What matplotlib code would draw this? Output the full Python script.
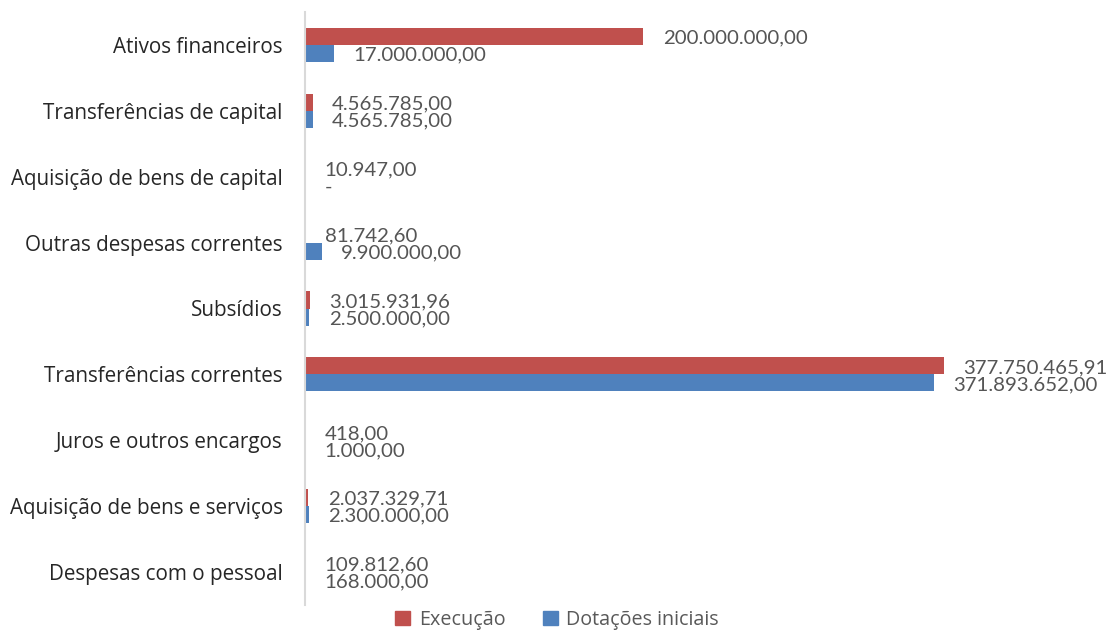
import matplotlib.pyplot as plt
from matplotlib.patches import Patch

# Dados (valores em euros)
categorias = ['Despesas com o pessoal', 'Aquisição de bens e serviços', 'Juros e outros encargos',
              'Transferências correntes', 'Subsídios', 'Outras despesas correntes',
              'Aquisição de bens de capital', 'Transferências de capital', 'Ativos financeiros']
execucao = [109812.60, 2037329.71, 418.00, 377750465.91, 3015931.96, 81742.60,
            10947.00, 4565785.00, 200000000.00]
dotacoes = [168000.00, 2300000.00, 1000.00, 371893652.00, 2500000.00, 9900000.00,
            0.00, 4565785.00, 17000000.00]

COR_EXEC = '#C0504D'
COR_DOT = '#4F81BD'
W, H = 1116, 632


def fmt(v):
    # formato portugues: 1.234.567,89 ; zero aparece como "-"
    if v == 0:
        return '-'
    s = f'{v:,.2f}'
    return s.replace(',', 'X').replace('.', ',').replace('X', '.')


fig = plt.figure(figsize=(W / 100, H / 100), dpi=100)
ax = fig.add_axes([305 / W, (H - 605) / H, (W - 305) / W, (605 - 12) / H])

h = 17 / 65.75
pos = list(range(len(categorias)))
ax.barh([p + h / 2 for p in pos], execucao, height=h, color=COR_EXEC)
ax.barh([p - h / 2 for p in pos], dotacoes, height=h, color=COR_DOT)

for p, v in zip(pos, execucao):
    ax.annotate(fmt(v), xy=(v, p + h / 2), xytext=(14, -1.2), textcoords='offset points',
                va='center', ha='left', fontsize=14.7, color='#555555', family='Lato')
for p, v in zip(pos, dotacoes):
    ax.annotate(fmt(v), xy=(v, p - h / 2), xytext=(14, -1.2), textcoords='offset points',
                va='center', ha='left', fontsize=14.7, color='#555555', family='Lato')

ax.set_xlim(0, (W - 305) / 1.6915 * 1e6)
ax.set_ylim(-0.5, 8.5)
ax.set_yticks(pos)
ax.set_yticklabels(categorias, fontsize=14.9, family='Open Sans', color='#262626')
ax.tick_params(axis='y', length=0, pad=16)
ax.set_xticks([])
for s in ['top', 'right', 'bottom']:
    ax.spines[s].set_visible(False)
ax.spines['left'].set_color('#D9D9D9')
ax.spines['left'].set_linewidth(1.5)

handles = [Patch(color=COR_EXEC, label='Execução'), Patch(color=COR_DOT, label='Dotações iniciais')]
leg = fig.legend(handles=handles, loc='center', bbox_to_anchor=(557 / W, 1 - 620 / H), ncol=2,
                 frameon=False, handlelength=0.75, handleheight=0.75,
                 handletextpad=0.45, columnspacing=1.9, prop={'family': 'Open Sans', 'size': 14.2})
for t in leg.get_texts():
    t.set_color('#595959')

fig.savefig('out.png', dpi=100)
